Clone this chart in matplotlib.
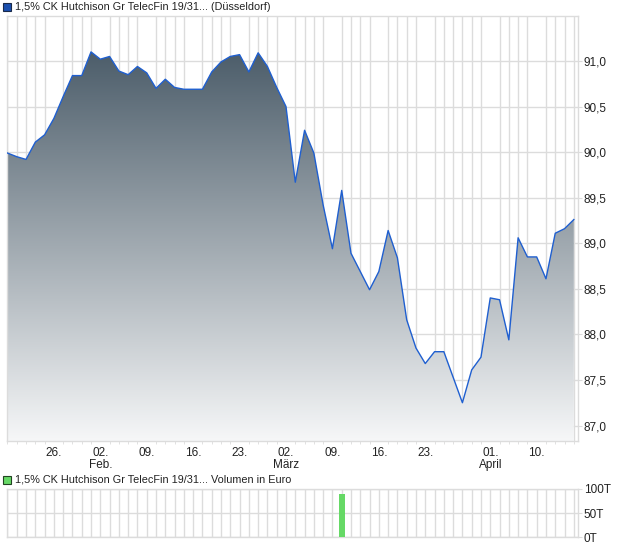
import numpy as np
import matplotlib
matplotlib.use("Agg")
import matplotlib.pyplot as plt
from matplotlib.colors import LinearSegmentedColormap

plt.rcParams['font.family'] = ['Liberation Sans', 'DejaVu Sans']

# ---- data (trading-day index 0..61) ----
prices = [89.99, 89.95, 89.92, 90.11, 90.19, 90.37, 90.61, 90.84, 90.84, 91.10,
          91.02, 91.05, 90.89, 90.85, 90.94, 90.87, 90.70, 90.80, 90.71, 90.69,
          90.69, 90.69, 90.88, 90.99, 91.05, 91.07, 90.88, 91.09, 90.94, 90.71,
          90.50, 89.67, 90.24, 89.99, 89.42, 88.94, 89.58, 88.89, 88.69, 88.49,
          88.69, 89.14, 88.84, 88.16, 87.85, 87.68, 87.81, 87.81, 87.53, 87.25,
          87.61, 87.75, 88.40, 88.38, 87.94, 89.06, 88.85, 88.85, 88.61, 89.11,
          89.16, 89.26]
volume_day = [36]
volume_val = [90]  # in thousands (T)

tick_pos = [5, 10, 15, 20, 25, 30, 35, 40, 45, 52, 57]
tick_labels = ["26.", "02.\nFeb.", "09.", "16.", "23.", "02.\nMärz", "09.", "16.", "23.", "01.\nApril", "10."]
y_ticks = [87.0, 87.5, 88.0, 88.5, 89.0, 89.5, 90.0, 90.5, 91.0]
y_tick_labels = ["87,0", "87,5", "88,0", "88,5", "89,0", "89,5", "90,0", "90,5", "91,0"]
vol_ticks = [0, 50, 100]
vol_tick_labels = ["0T", "50T", "100T"]

title_main = "1,5% CK Hutchison Gr TelecFin 19/31... (Düsseldorf)"
title_vol = "1,5% CK Hutchison Gr TelecFin 19/31... Volumen in Euro"

W, H = 620, 546
fig = plt.figure(figsize=(W / 100, H / 100), dpi=100)

def ax_rect(l, t, r, b):
    return [l / W, 1 - b / H, (r - l) / W, (b - t) / H]

grid_c = "#dcdcdc"
x = np.arange(len(prices))
xlim = (-0.05, 61.45)
ylim = (86.83, 91.494)

ax = fig.add_axes(ax_rect(7, 16, 578, 441))
ax.set_xlim(*xlim)
ax.set_ylim(*ylim)
for s in ax.spines.values():
    s.set_color(grid_c)
    s.set_linewidth(1)

# grid
ax.set_xticks(x, minor=True)
ax.set_xticks(tick_pos)
ax.set_xticklabels(tick_labels, fontsize=8.5, color="#222222", linespacing=1.1)
ax.tick_params(axis='x', which='major', length=0, pad=4)
ax.tick_params(axis='x', which='minor', length=2, color=grid_c)
ax.grid(True, axis='x', which='minor', color=grid_c, linewidth=1)
ax.yaxis.tick_right()
ax.set_yticks(y_ticks)
ax.set_yticklabels(y_tick_labels, fontsize=8.5, color="#222222")
ax.tick_params(axis='y', length=3, color=grid_c, pad=1)
ax.grid(True, axis='y', color=grid_c, linewidth=1)
ax.set_axisbelow(True)

# gradient fill under line
cmap = LinearSegmentedColormap.from_list("g", ["#f6f7f8", "#4c5d6a"])
grad = np.linspace(0, 1, 256).reshape(-1, 1)
top = max(prices)
im = ax.imshow(grad, extent=[xlim[0], xlim[1], ylim[0], top], origin='lower',
               cmap=cmap, aspect='auto', zorder=2)
poly = ax.fill_between(x, prices, ylim[0], color='none', zorder=1)
im.set_clip_path(poly.get_paths()[0], transform=ax.transData)
ax.set_xlim(*xlim)
ax.set_ylim(*ylim)
ax.plot(x, prices, color="#1f5fd0", linewidth=1.0, zorder=3)

# title legend
fig.patches.append(plt.Rectangle((3 / W, 1 - 11 / H), 8 / W, 8 / H, transform=fig.transFigure,
                                 facecolor="#1a4fae", edgecolor="#1a2a4a", linewidth=0.8))
fig.text(15 / W, 1 - 7 / H, title_main, fontsize=7.8, va='center', ha='left', color="#222222")

# volume panel
axv = fig.add_axes(ax_rect(7, 489, 578, 537))
axv.set_xlim(*xlim)
axv.set_ylim(0, 100)
for s in axv.spines.values():
    s.set_color(grid_c)
    s.set_linewidth(1)
axv.set_xticks(x, minor=True)
axv.set_xticks([])
axv.tick_params(axis='x', which='minor', length=0)
axv.grid(True, axis='x', which='minor', color=grid_c, linewidth=1)
axv.yaxis.tick_right()
axv.set_yticks(vol_ticks)
axv.set_yticklabels(vol_tick_labels, fontsize=8.5, color="#222222")
axv.tick_params(axis='y', length=3, color=grid_c, pad=1)
axv.grid(True, axis='y', color=grid_c, linewidth=1)
axv.set_axisbelow(True)
axv.bar(volume_day, volume_val, width=0.68, color="#66d966", zorder=3)

fig.patches.append(plt.Rectangle((3 / W, 1 - 484 / H), 8 / W, 8 / H, transform=fig.transFigure,
                                 facecolor="#66d966", edgecolor="#224422", linewidth=0.8))
fig.text(15 / W, 1 - 480 / H, title_vol, fontsize=7.8, va='center', ha='left', color="#222222")

fig.savefig("out.png", dpi=100)
